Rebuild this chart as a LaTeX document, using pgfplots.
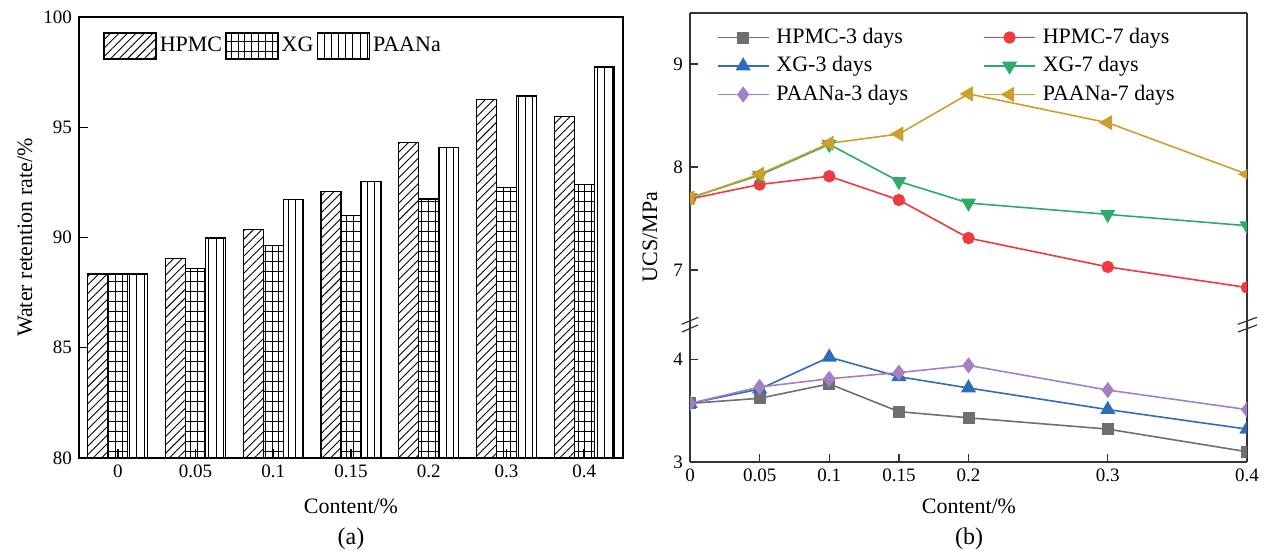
\documentclass[border=0pt]{standalone}
\usepackage{fontspec}
\setmainfont{Liberation Serif}
\usepackage{pgfplots}
\pgfplotsset{compat=1.18}
\usetikzlibrary{patterns.meta}
\definecolor{HPthree}{HTML}{6E6F73}
\definecolor{HPseven}{HTML}{EE3B3F}
\definecolor{XGthree}{HTML}{2F6DB8}
\definecolor{XGseven}{HTML}{2EAA6B}
\definecolor{PAthree}{HTML}{A57FC4}
\definecolor{PAseven}{HTML}{CF9F2C}
\begin{document}
\begin{tikzpicture}
\useasboundingbox (0pt,0pt) rectangle (632.5pt,275.5pt);
% ---------------- Panel (a) ----------------
\begin{axis}[
  at={(39.5pt,46.5pt)}, anchor=south west,
  width=272pt, height=220.5pt, scale only axis,
  ybar=0pt, bar width=0.257,
  xmin=-0.5, xmax=6.5, ymin=80, ymax=100,
  xtick={0,1,2,3,4,5,6}, xticklabels={0,0.05,0.1,0.15,0.2,0.3,0.4},
  ytick={80,85,90,95,100},
  tick pos=left, tick align=inside, major tick length=4.5pt,
  tick label style={font=\fontsize{9.5}{11}\selectfont},
  /pgf/number format/assume math mode=true,
  axis line style={line width=0.8pt},
  every tick/.style={line width=0.7pt, black},
  legend columns=-1,
  legend style={draw=none, fill=none, at={(axis description cs:0.0441,0.934)}, anchor=west,
    inner sep=0pt, column sep=0pt, font=\fontsize{11}{13}\selectfont, nodes={inner sep=1.6pt}},
  legend image code/.code={\draw[#1] (0pt,-6.5pt) rectangle (26pt,6.5pt);},
]
\addplot[draw=black, line width=0.6pt, pattern={Lines[angle=45,distance=3pt,line width=0.45pt]}]
  coordinates {(0,88.34) (1,89.05) (2,90.38) (3,92.10) (4,94.29) (5,96.25) (6,95.48)};
\addlegendentry{HPMC}
\addplot[draw=black, line width=0.6pt, pattern={Lines[angle=0,distance=5pt,line width=0.45pt]},
  postaction={pattern={Lines[angle=90,distance=3.4pt,line width=0.45pt]}}]
  coordinates {(0,88.34) (1,88.61) (2,89.62) (3,90.98) (4,91.75) (5,92.25) (6,92.42)};
\addlegendentry{XG}
\addplot[draw=black, line width=0.6pt, pattern={Lines[angle=90,distance=3.6pt,line width=0.45pt]}]
  coordinates {(0,88.34) (1,89.98) (2,91.71) (3,92.54) (4,94.09) (5,96.42) (6,97.73)};
\addlegendentry{PAANa}
\end{axis}
\node[rotate=90, font=\fontsize{11}{13}\selectfont] at (12.5pt,156.75pt) {Water retention rate/\%};
\node[font=\fontsize{11}{13}\selectfont] at (175.5pt,22.5pt) {Content/\%};
\node[font=\fontsize{12}{14}\selectfont] at (175.5pt,6pt) {(a)};
% ---------------- Panel (b) top ----------------
\begin{axis}[
  at={(345pt,113pt)}, anchor=south west,
  width=278.5pt, height=156pt, scale only axis,
  xmin=0, xmax=0.4, ymin=6.466, ymax=9.495,
  xtick=\empty, ytick={7,8,9}, ytick pos=left, tick align=inside, major tick length=4pt,
  axis x line*=top, axis y line*=box,
  axis line style={-, line width=0.7pt, black!80},
  every tick/.style={line width=0.7pt, black!80},
  tick label style={font=\fontsize{9.5}{11}\selectfont},
  /pgf/number format/assume math mode=true,
  clip marker paths=true,
  legend columns=2, legend cell align=left,
  legend entries={HPMC-3 days, HPMC-7 days, XG-3 days, XG-7 days, PAANa-3 days, PAANa-7 days},
  legend style={draw=none, fill=none, at={(axis description cs:0.0475,0.966)}, anchor=north west,
    inner sep=0pt, font=\fontsize{11}{13}\selectfont, row sep=0.75pt, column sep=2pt,
    /tikz/column 2/.style={column sep=36pt},
    nodes={inner sep=1.5pt, text height=8pt, text depth=2.5pt}},
  legend image code/.code={\draw[mark repeat=2,mark phase=2,#1] plot coordinates {(0pt,0pt) (12.75pt,0pt) (25.5pt,0pt)};},
]
\addlegendimage{color=HPthree, line width=0.8pt, mark=square*, mark size=2.6pt, mark options={solid, fill=HPthree}}
\addlegendimage{color=HPseven, line width=0.8pt, mark=*, mark size=2.7pt, mark options={solid, fill=HPseven}}
\addlegendimage{color=XGthree, line width=0.8pt, mark=triangle*, mark size=3.6pt, mark options={solid, fill=XGthree}}
\addlegendimage{color=XGseven, line width=0.8pt, mark=triangle*, mark size=3.6pt, mark options={solid, fill=XGseven, rotate=180}}
\addlegendimage{color=PAthree, line width=0.8pt, mark=diamond*, mark size=3.4pt, mark options={solid, fill=PAthree}}
\addlegendimage{color=PAseven, line width=0.8pt, mark=triangle*, mark size=3.6pt, mark options={solid, fill=PAseven, rotate=90}}
\addplot[forget plot, color=HPseven, line width=0.8pt, mark=*, mark size=2.7pt, mark options={solid, fill=HPseven}]
  coordinates {(0,7.69) (0.05,7.83) (0.1,7.91) (0.15,7.68) (0.2,7.31) (0.3,7.03) (0.4,6.83)};
\addplot[forget plot, color=XGseven, line width=0.8pt, mark=triangle*, mark size=3.6pt, mark options={solid, fill=XGseven, rotate=180}]
  coordinates {(0,7.70) (0.05,7.92) (0.1,8.22) (0.15,7.86) (0.2,7.65) (0.3,7.54) (0.4,7.43)};
\addplot[forget plot, color=PAseven, line width=0.8pt, mark=triangle*, mark size=3.6pt, mark options={solid, fill=PAseven, rotate=90}]
  coordinates {(0,7.70) (0.05,7.93) (0.1,8.23) (0.15,8.32) (0.2,8.71) (0.3,8.43) (0.4,7.93)};
\end{axis}
% ---------------- Panel (b) bottom ----------------
\begin{axis}[
  at={(345pt,44.5pt)}, anchor=south west,
  width=278.5pt, height=68.5pt, scale only axis,
  xmin=0, xmax=0.4, ymin=3, ymax=4.333,
  xtick={0,0.05,0.1,0.15,0.2,0.3,0.4}, xticklabels={0,0.05,0.1,0.15,0.2,0.3,0.4},
  ytick={3,4}, xtick pos=left, ytick pos=left, tick align=inside, major tick length=4pt,
  axis x line*=bottom, axis y line*=box,
  axis line style={-, line width=0.7pt, black!80},
  every tick/.style={line width=0.7pt, black!80},
  tick label style={font=\fontsize{9.5}{11}\selectfont},
  /pgf/number format/assume math mode=true,
  clip marker paths=true,
]
\addplot[color=HPthree, line width=0.8pt, mark=square*, mark size=2.6pt, mark options={solid, fill=HPthree}]
  coordinates {(0,3.57) (0.05,3.62) (0.1,3.76) (0.15,3.49) (0.2,3.43) (0.3,3.32) (0.4,3.10)};
\addplot[color=XGthree, line width=0.8pt, mark=triangle*, mark size=3.6pt, mark options={solid, fill=XGthree}]
  coordinates {(0,3.57) (0.05,3.71) (0.1,4.02) (0.15,3.83) (0.2,3.72) (0.3,3.51) (0.4,3.32)};
\addplot[color=PAthree, line width=0.8pt, mark=diamond*, mark size=3.4pt, mark options={solid, fill=PAthree}]
  coordinates {(0,3.57) (0.05,3.73) (0.1,3.81) (0.15,3.87) (0.2,3.94) (0.3,3.70) (0.4,3.51)};
\end{axis}
% axis break marks
\draw[line width=0.6pt, black!80] (340.85pt,113.35pt) -- (349.15pt,116.85pt);
\draw[line width=0.6pt, black!80] (341pt,109.5pt) -- (349pt,113pt);
\draw[line width=0.6pt, black!80] (619pt,113.35pt) -- (628.5pt,116.85pt);
\draw[line width=0.6pt, black!80] (619pt,109.5pt) -- (628.5pt,113pt);
\node[rotate=90, font=\fontsize{11}{13}\selectfont] at (325pt,157pt) {UCS/MPa};
\node[font=\fontsize{11}{13}\selectfont] at (484.5pt,22.5pt) {Content/\%};
\node[font=\fontsize{12}{14}\selectfont] at (484.5pt,6pt) {(b)};
\end{tikzpicture}
\end{document}
